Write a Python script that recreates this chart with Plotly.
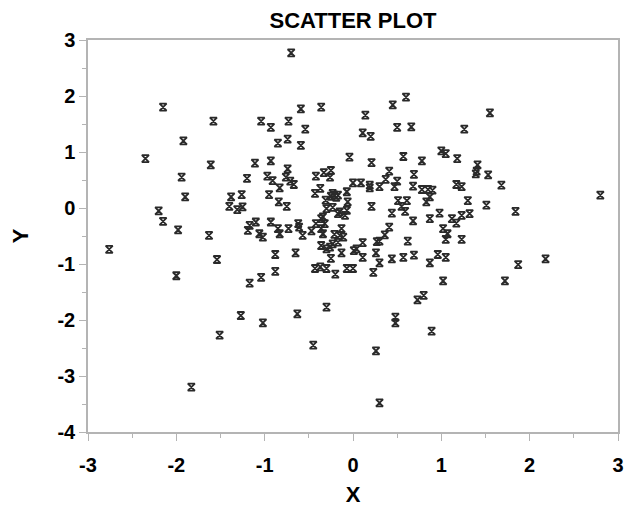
import plotly.graph_objects as go

x_vals = [
    -0.70, -2.15, -0.36, -0.59, -1.58, -1.04, -0.73, -0.93, -0.54, -1.92,
    -0.85, -0.74, -0.59, -2.35, -1.61, -1.11, -0.93, -0.04, -1.94, -1.20,
    -0.97, -0.91, -0.83, -0.74, -0.76, -0.71, -0.67, -0.42, -0.33, -0.25,
    -0.26, -1.90, -1.38, -1.26, -0.95, -0.84, -0.75, -1.40, -1.31, -1.25,
    -0.37, -0.43, -0.25, -0.21, -0.17, -0.23, -0.19, -0.31, -0.07, -0.06,
    -0.30, -0.23, -0.15, -0.07, -2.20, -2.15, -1.98,
    0.11, 0.20, 0.50, 0.60, 0.45, 0.14, 1.55, 0.66, 1.26, 0.21,
    0.57, 0.78, 1.00, 1.05, 1.18, 1.41, 1.40, 1.39, 1.53, 0.69,
    0.00, 0.09, 0.19, 0.19, 0.30, 0.37, 0.41, 0.50, 0.47, 0.68,
    0.78, 0.85, 0.90, 0.87, 0.83, 1.17, 1.23, 1.68, 0.61, 0.55,
    0.59, 0.51, 1.30, 1.51, 2.80, 0.21, 0.44,
    1.84, 0.98, 1.23, 1.32, 0.68, 0.87, 1.12, 1.17, 1.02, 1.07,
    1.05, 1.23, 0.62, 0.41, 0.36, 0.30, 0.27, 0.11, 0.01, 0.11,
    0.26, 0.30, 0.44, 0.57, 0.69, 0.87, 0.96, 1.05, 0.00, 0.23,
    1.02, 1.72, 2.18, 1.87, 0.73, 0.80, 0.48, 0.48, 0.89, 0.26, 0.30,
    -1.17, -1.10, -1.19, -1.06, -1.02, -0.93, -0.85, -0.83, -0.73, -0.62,
    -0.61, -0.57, -1.63, -2.76, -1.54, -2.00, -0.88, -0.65, -0.88, -1.04,
    -1.17, -1.27, -1.02, -0.63, -0.30, -1.51, -0.45, -1.83,
    -0.34, -0.17, -0.09, -0.47, -0.42, -0.36, -0.32, -0.34, -0.36, -0.21,
    -0.15, -0.11, -0.13, -0.23, -0.17, -0.36, -0.30, -0.26, -0.25, -0.13,
    0.04, -0.43, -0.37, -0.30, -0.20, -0.07,
]

y_vals = [
    2.77, 1.80, 1.80, 1.77, 1.55, 1.55, 1.55, 1.44, 1.41, 1.20,
    1.16, 1.23, 1.12, 0.88, 0.77, 0.80, 0.84, 0.91, 0.55, 0.53,
    0.57, 0.49, 0.36, 0.70, 0.55, 0.48, 0.42, 0.57, 0.63, 0.67,
    0.55, 0.20, 0.20, 0.24, 0.24, 0.11, 0.03, 0.03, -0.03, 0.02,
    0.35, 0.26, 0.21, 0.23, 0.23, 0.26, 0.19, 0.14, 0.29, 0.11,
    -0.01, 0.01, -0.07, -0.04, -0.05, -0.24, -0.39,
    1.34, 1.28, 1.44, 1.98, 1.84, 1.66, 1.70, 1.45, 1.41, 0.81,
    0.92, 0.84, 1.02, 0.97, 0.88, 0.77, 0.66, 0.61, 0.59, 0.60,
    0.45, 0.45, 0.41, 0.36, 0.38, 0.51, 0.66, 0.48, 0.38, 0.39,
    0.33, 0.33, 0.32, 0.20, 0.11, 0.42, 0.38, 0.41, 0.13, 0.03,
    -0.06, 0.13, 0.13, 0.05, 0.23, 0.03, -0.09,
    -0.06, -0.09, -0.13, -0.10, -0.23, -0.19, -0.19, -0.27, -0.37, -0.46,
    -0.56, -0.56, -0.59, -0.34, -0.48, -0.59, -0.60, -0.62, -0.76, -0.88,
    -0.80, -0.98, -0.91, -0.88, -0.84, -0.98, -0.83, -0.88, -1.08, -1.15,
    -1.30, -1.30, -0.91, -1.01, -1.64, -1.56, -1.95, -2.05, -2.20, -2.55, -3.48,
    -0.31, -0.25, -0.40, -0.46, -0.52, -0.25, -0.37, -0.46, -0.37, -0.28,
    -0.34, -0.49, -0.49, -0.74, -0.92, -1.21, -0.83, -0.80, -1.13, -1.24,
    -1.34, -1.92, -2.05, -1.89, -1.77, -2.27, -2.45, -3.20,
    -0.16, -0.10, -0.13, -0.41, -0.28, -0.19, -0.28, -0.46, -0.37, -0.47,
    -0.49, -0.52, -0.37, -0.64, -0.61, -0.67, -0.73, -0.70, -0.90, -0.80,
    -0.73, -1.08, -1.05, -1.08, -1.18, -1.08,
]

x_ticks = [-3, -2, -1, 0, 1, 2, 3]
y_ticks = [-4, -3, -2, -1, 0, 1, 2, 3]

FONT = "Liberation Sans, Arial, sans-serif"
AX = "#b4b4b4"

fig = go.Figure(
    go.Scatter(
        x=x_vals,
        y=y_vals,
        mode="markers",
        marker=dict(symbol="hourglass-open", size=7,
                    line=dict(color="#2a2a2a", width=1.8), color="#2a2a2a"),
        hoverinfo="x+y",
    )
)

axis_common = dict(
    showgrid=False, zeroline=False, automargin=False,
    showline=True, linecolor=AX, linewidth=1.5, mirror=True,
    ticks="outside", ticklen=7, tickwidth=1.2, tickcolor=AX,
    tickfont=dict(family=FONT, size=20, color="#000000", weight="bold"),
)

W, H = 630, 500
fig.update_layout(
    width=W, height=H,
    margin=dict(l=80, r=20, t=32, b=76),
    paper_bgcolor="white", plot_bgcolor="white",
    showlegend=False,
    title=dict(text="<b>SCATTER PLOT</b>", x=345 / W, xanchor="center",
               y=1 - 12 / H, yanchor="middle",
               font=dict(family=FONT, size=22, color="#000000")),
    xaxis=dict(range=[-3, 3], tickvals=x_ticks, ticktext=[str(v) for v in x_ticks],
               minor=dict(dtick=0.5, tick0=0, ticks="outside", ticklen=4, tickcolor=AX, tickwidth=1.2),
               ticklabelstandoff=7,
               title=dict(text="<b>X</b>", font=dict(family=FONT, size=22, color="#000000"), standoff=12),
               **axis_common),
    yaxis=dict(range=[-4, 3], tickvals=y_ticks, ticktext=[str(v) for v in y_ticks],
               minor=dict(dtick=0.5, tick0=0, ticks="outside", ticklen=4, tickcolor=AX, tickwidth=1.2),
               title=dict(text="<b>Y</b>", font=dict(family=FONT, size=22, color="#000000"), standoff=28),
               **axis_common),
)

fig.write_html("out.html")
